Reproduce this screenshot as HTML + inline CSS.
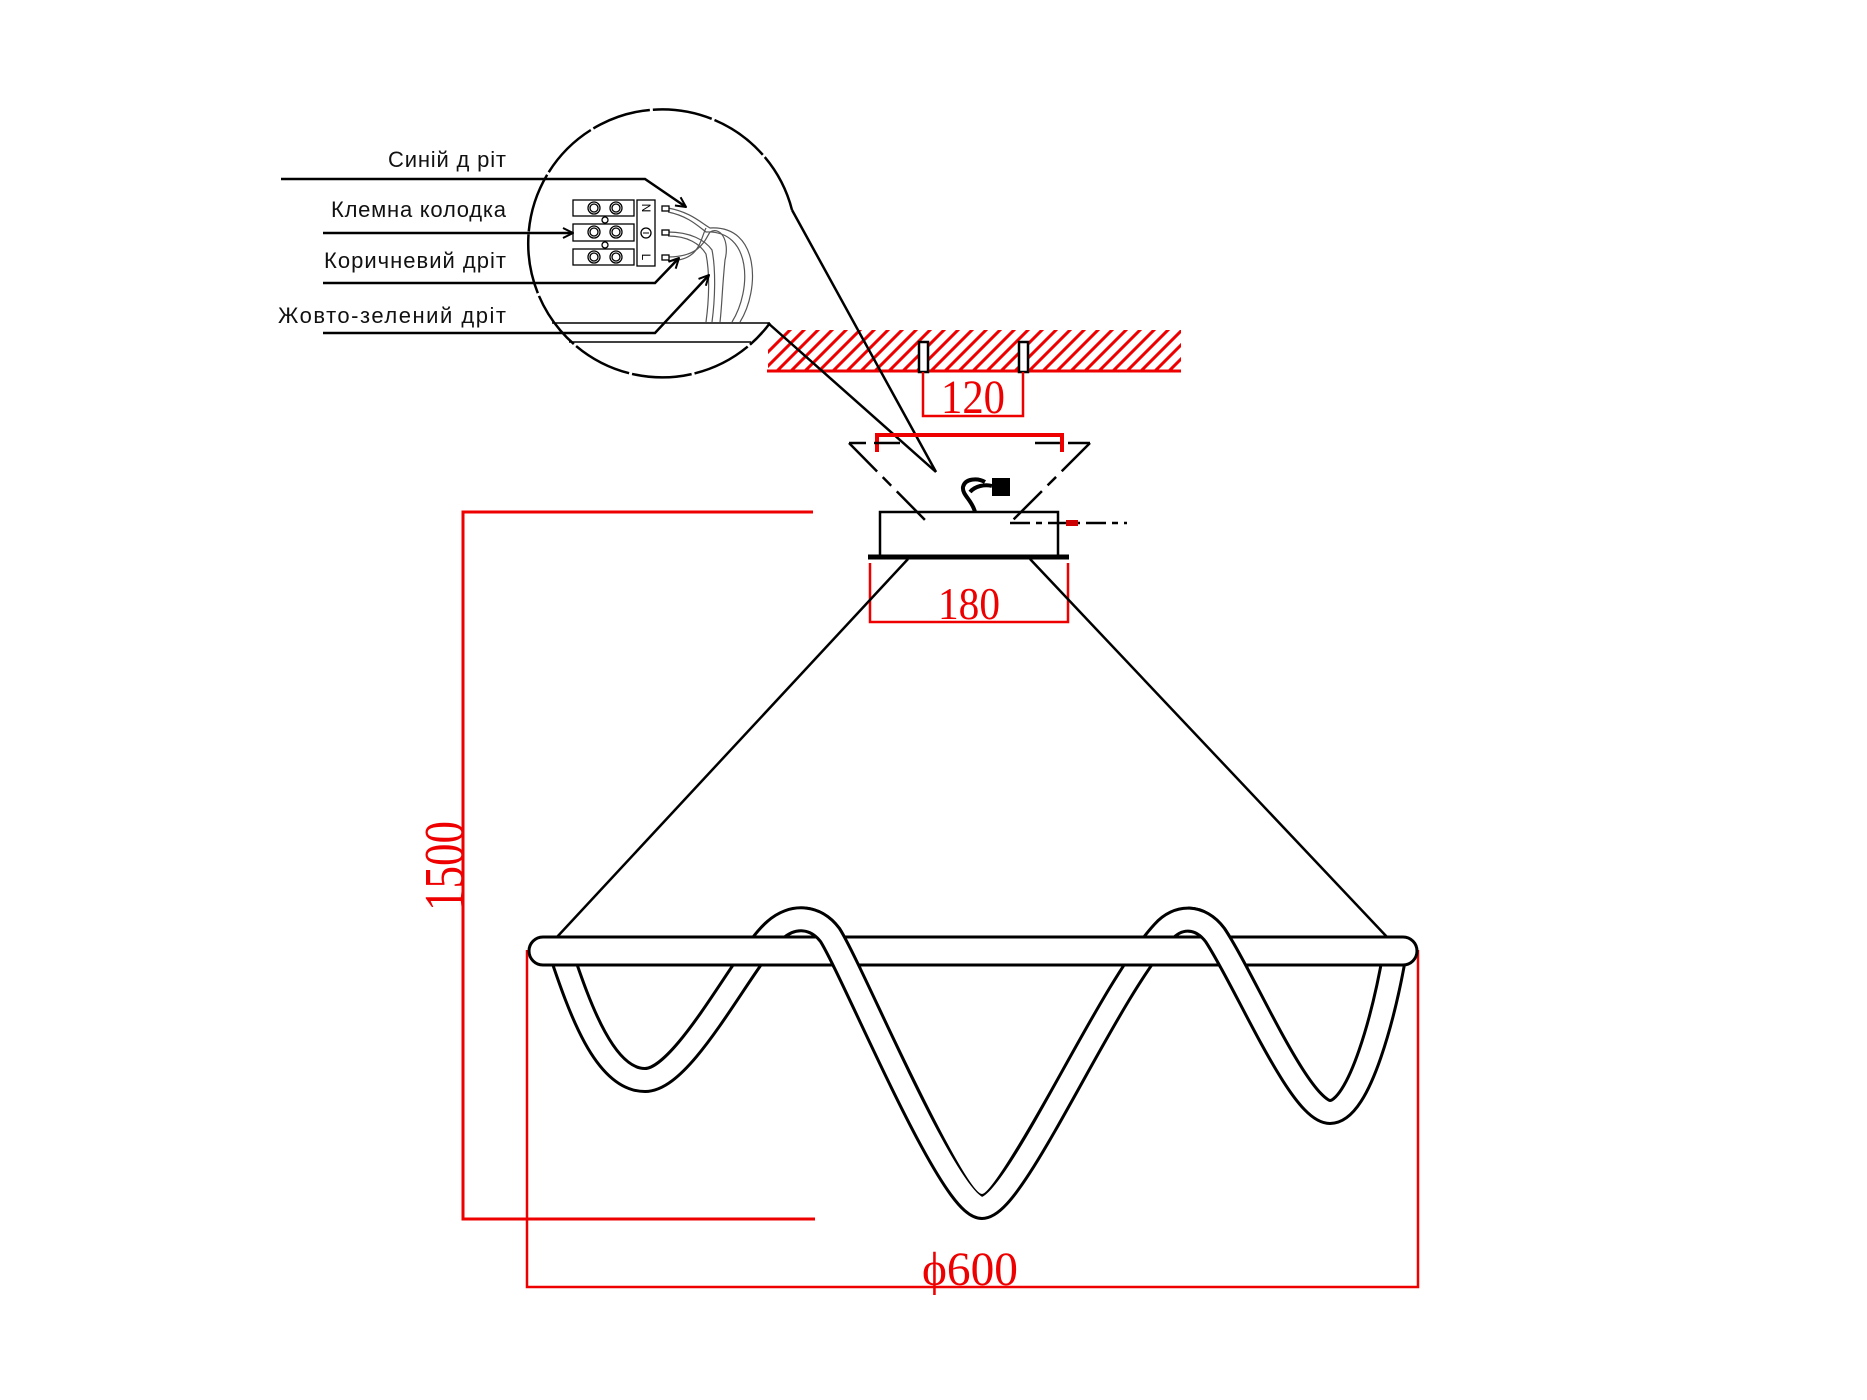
<!DOCTYPE html>
<html><head><meta charset="utf-8"><style>html,body{margin:0;padding:0;background:#fff}svg{display:block}</style></head>
<body>
<svg width="1867" height="1400" viewBox="0 0 1867 1400" xmlns="http://www.w3.org/2000/svg">
<defs>
<clipPath id="hc"><rect x="768" y="330" width="413" height="41"/></clipPath>
<clipPath id="front"><rect x="806" y="880" width="80" height="88"/><rect x="1188" y="880" width="80" height="88"/></clipPath>
<marker id="ar" viewBox="0 0 12 12" refX="11" refY="6" markerWidth="12" markerHeight="12" markerUnits="userSpaceOnUse" orient="auto"><path d="M1 1 L11 6 L1 11" fill="none" stroke="#000" stroke-width="2"/></marker>
</defs>

<g clip-path="url(#hc)" stroke="#e00" stroke-width="3">
<g id="h">
<line x1="740" y1="380" x2="800" y2="320"/><line x1="754" y1="380" x2="814" y2="320"/><line x1="768" y1="380" x2="828" y2="320"/><line x1="782" y1="380" x2="842" y2="320"/><line x1="796" y1="380" x2="856" y2="320"/><line x1="810" y1="380" x2="870" y2="320"/><line x1="824" y1="380" x2="884" y2="320"/><line x1="838" y1="380" x2="898" y2="320"/><line x1="852" y1="380" x2="912" y2="320"/><line x1="866" y1="380" x2="926" y2="320"/><line x1="880" y1="380" x2="940" y2="320"/><line x1="894" y1="380" x2="954" y2="320"/><line x1="908" y1="380" x2="968" y2="320"/><line x1="922" y1="380" x2="982" y2="320"/><line x1="936" y1="380" x2="996" y2="320"/>
</g>
<use href="#h" x="210"/><use href="#h" x="420"/>
</g>
<line x1="767" y1="371" x2="1181" y2="371" stroke="#e00" stroke-width="3"/>
<rect x="919" y="342" width="9" height="30" fill="#fff" stroke="#000" stroke-width="2.5"/>
<rect x="1019" y="342" width="9" height="30" fill="#fff" stroke="#000" stroke-width="2.5"/>
<polyline points="923,372 923,416 1023,416 1023,372" fill="none" stroke="#e00" stroke-width="2.5"/>
<text x="973" y="413" font-family="Liberation Serif" font-size="48" fill="#e00" text-anchor="middle" textLength="64" lengthAdjust="spacingAndGlyphs">120</text>

<path d="M792 210 A134 134 0 1 0 770 323" fill="none" stroke="#000" stroke-width="2.5" stroke-dasharray="60 3"/>
<line x1="792" y1="210" x2="936" y2="472" stroke="#000" stroke-width="2.5"/>
<line x1="768" y1="323" x2="936" y2="472" stroke="#000" stroke-width="2.5"/>
<line x1="552" y1="323" x2="770" y2="323" stroke="#000" stroke-width="1.5"/>
<line x1="569" y1="342" x2="751" y2="342" stroke="#000" stroke-width="1.5"/>

<g stroke="#000" stroke-width="1.3" fill="#fff">
<rect x="573" y="200" width="61" height="16"/><rect x="573" y="224" width="61" height="17"/><rect x="573" y="249" width="61" height="16"/>
<circle cx="594" cy="208" r="6"/><circle cx="594" cy="208" r="4"/><circle cx="616" cy="208" r="6"/><circle cx="616" cy="208" r="4"/>
<circle cx="594" cy="232" r="6"/><circle cx="594" cy="232" r="4"/><circle cx="616" cy="232" r="6"/><circle cx="616" cy="232" r="4"/>
<circle cx="594" cy="257" r="6"/><circle cx="594" cy="257" r="4"/><circle cx="616" cy="257" r="6"/><circle cx="616" cy="257" r="4"/>
<circle cx="605" cy="220" r="3"/><circle cx="605" cy="245" r="3"/>
<rect x="637" y="200" width="18" height="66"/>
<circle cx="646" cy="233" r="5"/>
</g>
<text x="646" y="208" font-family="Liberation Sans" font-size="12" text-anchor="middle" transform="rotate(90 646 208)" dy="4">N</text>
<text x="646" y="257" font-family="Liberation Sans" font-size="12" text-anchor="middle" transform="rotate(90 646 257)" dy="4">L</text>
<line x1="643" y1="233" x2="649" y2="233" stroke="#000" stroke-width="1"/>
<g fill="none" stroke="#555" stroke-width="1.2">
<path d="M668 208 C690 212,700 222,710 228 C760 225,760 290,740 322"/>
<path d="M668 212 C688 216,698 226,706 232 C752 230,752 290,732 322"/>
<path d="M668 232 C690 232,705 240,712 250 C716 270,715 300,712 322"/>
<path d="M668 236 C688 236,700 244,706 254 C710 274,709 300,706 322"/>
<path d="M668 257 C700 257,705 240,710 232 C720 226,730 240,725 260 C722 290,722 305,720 322"/>
<path d="M668 261 C700 261,700 240,706 228"/>
</g>
<g stroke="#000" stroke-width="1.3" fill="#fff">
<rect x="662" y="206" width="7" height="5"/><rect x="662" y="230" width="7" height="5"/><rect x="662" y="255" width="7" height="5"/>
</g>

<g font-family="Liberation Sans" font-size="22" fill="#111" text-anchor="end" lengthAdjust="spacingAndGlyphs">
<text x="506" y="167" textLength="118">Синій д ріт</text>
<text x="506" y="217" textLength="175">Клемна колодка</text>
<text x="506" y="268" textLength="182">Коричневий дріт</text>
<text x="506" y="323" textLength="228">Жовто-зелений дріт</text>
</g>
<g fill="none" stroke="#000" stroke-width="2.5">
<polyline points="281,179 645,179 686,207" marker-end="url(#ar)"/>
<polyline points="323,233 573,233" marker-end="url(#ar)"/>
<polyline points="323,283 655,283 679,258" marker-end="url(#ar)"/>
<polyline points="323,333 655,333 709,275" marker-end="url(#ar)"/>
</g>

<polyline points="877,452 877,435 1062,435 1062,452" fill="none" stroke="#e00" stroke-width="4"/>
<g fill="none" stroke="#000" stroke-width="2.5">
<line x1="849" y1="443" x2="866" y2="443"/>
<line x1="874" y1="443" x2="900" y2="443"/>
<line x1="1035" y1="443" x2="1060" y2="443"/>
<line x1="1068" y1="443" x2="1090" y2="443"/>
<line x1="849" y1="443" x2="928" y2="523" stroke-dasharray="40 8 12 8"/>
<line x1="1090" y1="443" x2="1010" y2="523" stroke-dasharray="40 8 12 8"/>
<line x1="1010" y1="523" x2="1127" y2="523" stroke-dasharray="20 6 6 6"/>
</g>
<rect x="1066" y="520" width="12" height="6" fill="#c00"/>
<path d="M975 512 C972 500,962 495,963 487 C965 478,978 478,985 482 M970 492 C975 486,985 484,992 486" fill="none" stroke="#000" stroke-width="4"/>
<rect x="992" y="478" width="18" height="18" fill="#000"/>
<rect x="880" y="512" width="178" height="45" fill="none" stroke="#000" stroke-width="2.5"/>
<line x1="868" y1="557" x2="1069" y2="557" stroke="#000" stroke-width="5"/>
<polyline points="870,563 870,622 1068,622 1068,563" fill="none" stroke="#e00" stroke-width="2.5"/>
<text x="969" y="619" font-family="Liberation Serif" font-size="46" fill="#e00" text-anchor="middle" textLength="62" lengthAdjust="spacingAndGlyphs">180</text>

<line x1="908" y1="559" x2="557" y2="937" stroke="#000" stroke-width="2.5"/>
<line x1="1030" y1="559" x2="1387" y2="937" stroke="#000" stroke-width="2.5"/>

<polyline points="813,512 463,512 463,1219 815,1219" fill="none" stroke="#e00" stroke-width="3"/>
<text x="0" y="0" font-family="Liberation Serif" font-size="56" fill="#e00" text-anchor="middle" textLength="90" lengthAdjust="spacingAndGlyphs" transform="translate(463 866) rotate(-90)">1500</text>
<polyline points="527,950 527,1287 1418,1287 1418,950" fill="none" stroke="#e00" stroke-width="2.5"/>
<text x="970" y="1285" font-family="Liberation Serif" font-size="48" fill="#e00" text-anchor="middle" textLength="96" lengthAdjust="spacingAndGlyphs">ϕ600</text>

<path d="M560 950 C580 1010,605 1080,645 1080 C685 1080,745 955,775 930 C792 915,815 915,830 935 C855 975,950 1207,982 1207 C1015 1207,1105 995,1163 932 C1178 915,1200 915,1215 935 C1245 980,1300 1112,1330 1112 C1360 1112,1385 1010,1395 952" fill="none" stroke="#000" stroke-width="26"/>
<path d="M560 950 C580 1010,605 1080,645 1080 C685 1080,745 955,775 930 C792 915,815 915,830 935 C855 975,950 1207,982 1207 C1015 1207,1105 995,1163 932 C1178 915,1200 915,1215 935 C1245 980,1300 1112,1330 1112 C1360 1112,1385 1010,1395 952" fill="none" stroke="#fff" stroke-width="20"/>
<rect x="529" y="937" width="888" height="28" rx="14" fill="#fff" stroke="#000" stroke-width="3"/>
<g clip-path="url(#front)">
<path d="M560 950 C580 1010,605 1080,645 1080 C685 1080,745 955,775 930 C792 915,815 915,830 935 C855 975,950 1207,982 1207 C1015 1207,1105 995,1163 932 C1178 915,1200 915,1215 935 C1245 980,1300 1112,1330 1112 C1360 1112,1385 1010,1395 952" fill="none" stroke="#000" stroke-width="26"/>
<path d="M560 950 C580 1010,605 1080,645 1080 C685 1080,745 955,775 930 C792 915,815 915,830 935 C855 975,950 1207,982 1207 C1015 1207,1105 995,1163 932 C1178 915,1200 915,1215 935 C1245 980,1300 1112,1330 1112 C1360 1112,1385 1010,1395 952" fill="none" stroke="#fff" stroke-width="20"/>
</g>
</svg>
</body></html>
